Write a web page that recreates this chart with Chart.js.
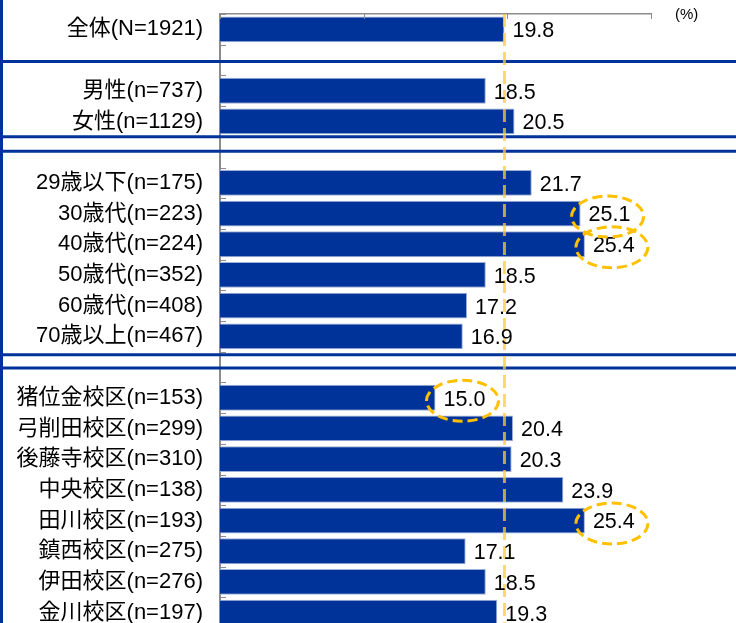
<!DOCTYPE html>
<html>
<head>
<meta charset="utf-8">
<script src="https://cdn.jsdelivr.net/npm/chart.js@4/dist/chart.umd.min.js"></script>
<style>
  html, body { margin: 0; padding: 0; background: #fff; overflow: hidden; }
  #wrap { width: 736px; height: 623px; overflow: hidden; }
</style>
</head>
<body>
<div id="wrap"><canvas id="myChart" width="736" height="628"></canvas></div>
<script>
// 項目（空文字はグループの区切り行）
const categories = [
    '全体(N=1921)', '',
    '男性(n=737)', '女性(n=1129)', '',
    '29歳以下(n=175)', '30歳代(n=223)', '40歳代(n=224)', '50歳代(n=352)', '60歳代(n=408)', '70歳以上(n=467)', '',
    '猪位金校区(n=153)', '弓削田校区(n=299)', '後藤寺校区(n=310)', '中央校区(n=138)',
    '田川校区(n=193)', '鎮西校区(n=275)', '伊田校区(n=276)', '金川校区(n=197)'
];
const values = [
    19.8, null,
    18.5, 20.5, null,
    21.7, 25.1, 25.4, 18.5, 17.2, 16.9, null,
    15.0, 20.4, 20.3, 23.9, 25.4, 17.1, 18.5, 19.3
];
// 点線の丸で囲む行
const highlighted = [6, 7, 12, 16];
const xTicks = [0, 10, 20, 30];
const overall = values[0];

const FONT = '"Liberation Sans", Arial, "Noto Sans CJK JP", sans-serif';

const decor = {
    id: 'decor',
    afterDraw(chart) {
        const ctx = chart.ctx;
        const xs = chart.scales.x, ys = chart.scales.y;
        const area = chart.chartArea;
        const pitch = ys.getPixelForValue(1) - ys.getPixelForValue(0);
        const meta = chart.getDatasetMeta(0);

        ctx.save();
        // 内向きの目盛り
        ctx.strokeStyle = '#8c8c8c';
        ctx.lineWidth = 1;
        xTicks.forEach(v => {
            const x = Math.round(xs.getPixelForValue(v)) + 0.5;
            ctx.beginPath(); ctx.moveTo(x, area.top); ctx.lineTo(x, area.top + 5); ctx.stroke();
        });
        for (let i = 0; i <= categories.length; i++) {
            const y = Math.round(ys.getPixelForValue(i) - pitch / 2) + 0.5;
            ctx.beginPath(); ctx.moveTo(area.left, y); ctx.lineTo(area.left + 6, y); ctx.stroke();
        }

        // 区切り線
        ctx.strokeStyle = '#003399';
        ctx.lineWidth = 3;
        [[1, 0.05], [4, -0.5], [4, -0.03], [11, -0.4], [11, 0.03]].forEach(([row, off]) => {
            const y = ys.getPixelForValue(row) + off * pitch;
            ctx.beginPath(); ctx.moveTo(0, y); ctx.lineTo(chart.width, y); ctx.stroke();
        });
        ctx.beginPath(); ctx.moveTo(1.5, 0); ctx.lineTo(1.5, chart.height); ctx.stroke();

        // 全体の値の点線
        const ax = xs.getPixelForValue(overall);
        ctx.strokeStyle = 'rgba(255, 204, 51, 0.75)';
        ctx.lineWidth = 3;
        ctx.setLineDash([13, 6]);
        ctx.beginPath(); ctx.moveTo(ax, area.top); ctx.lineTo(ax, chart.height); ctx.stroke();
        ctx.setLineDash([]);

        // 数値ラベル
        ctx.fillStyle = '#000';
        ctx.font = '21.5px ' + FONT;
        ctx.textAlign = 'left';
        ctx.textBaseline = 'middle';
        meta.data.forEach((bar, i) => {
            if (values[i] == null) return;
            ctx.fillText(values[i].toFixed(1), bar.x + 8, bar.y + 2);
        });

        // 丸囲み
        ctx.strokeStyle = '#FFC000';
        ctx.lineWidth = 3;
        ctx.setLineDash([10, 5]);
        highlighted.forEach(i => {
            const bar = meta.data[i];
            ctx.beginPath();
            ctx.ellipse(bar.x + 27, bar.y + 3, 36, 20.5, 0, 0, Math.PI * 2);
            ctx.stroke();
        });
        ctx.setLineDash([]);

        // 単位
        ctx.font = '15px ' + FONT;
        ctx.fillText('(%)', 675, 15);
        ctx.restore();
    }
};

function noPadding(scale) {
    scale.paddingTop = 0;
    scale.paddingBottom = 0;
    scale.paddingLeft = 0;
    scale.paddingRight = 0;
}

new Chart(document.getElementById('myChart').getContext('2d'), {
    type: 'bar',
    data: {
        labels: categories,
        datasets: [{
            data: values,
            backgroundColor: '#003399',
            borderColor: '#9fb0d8',
            borderWidth: 1,
            barPercentage: 0.84,
            categoryPercentage: 1.0
        }]
    },
    options: {
        indexAxis: 'y',
        responsive: false,
        animation: false,
        devicePixelRatio: 1,
        layout: { padding: { top: 14, right: 85, bottom: 0, left: 0 } },
        plugins: { legend: { display: false }, tooltip: { enabled: false } },
        scales: {
            x: {
                position: 'top',
                min: 0,
                max: 30,
                ticks: { display: false, stepSize: 10 },
                grid: { display: false, drawTicks: false },
                border: { display: true, color: '#8c8c8c', width: 1.5 },
                afterFit(scale) { scale.height = 0; noPadding(scale); }
            },
            y: {
                ticks: {
                    color: '#000',
                    padding: 17,
                    autoSkip: false,
                    font: { family: FONT, size: 22 }
                },
                grid: { display: false, drawTicks: false },
                border: { display: true, color: '#8c8c8c', width: 2 },
                afterFit(scale) { scale.width = 220; noPadding(scale); }
            }
        }
    },
    plugins: [decor]
});
</script>
</body>
</html>
